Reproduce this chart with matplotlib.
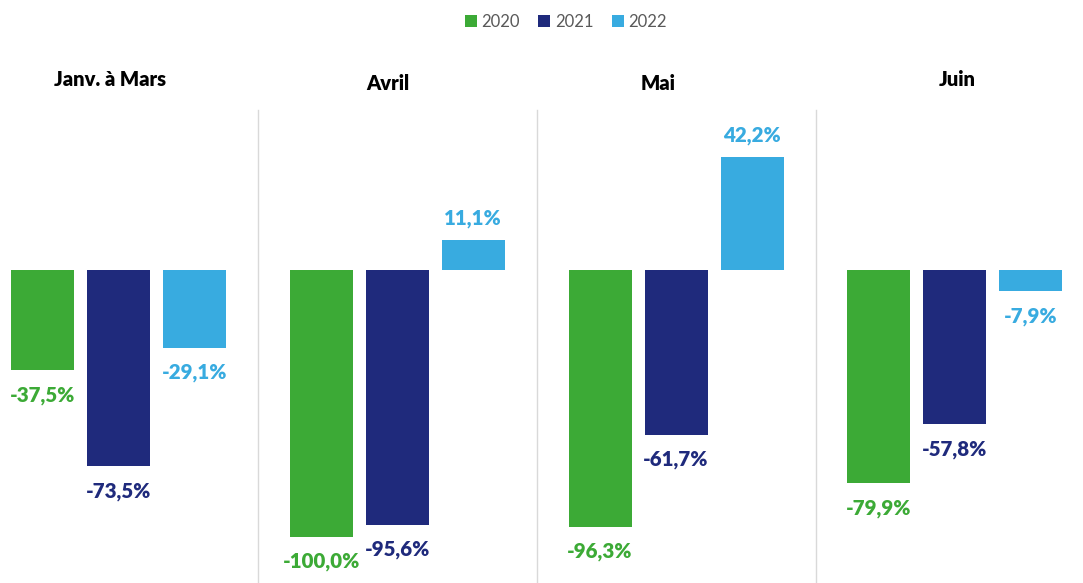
import matplotlib.pyplot as plt
from matplotlib.patches import Patch

plt.rcParams['font.family'] = ['Lato', 'DejaVu Sans']

# Data
periods = ["Janv. à Mars", "Avril", "Mai", "Juin"]
years = ["2020", "2021", "2022"]
values_2020 = [-37.5, -100.0, -96.3, -79.9]
values_2021 = [-73.5, -95.6, -61.7, -57.8]
values_2022 = [-29.1, 11.1, 42.2, -7.9]
series = [values_2020, values_2021, values_2022]
colors = ["#3CAA36", "#1F2A7C", "#38ABE0"]

# Layout (in pixel units of the 1083x583 canvas)
W, H = 1083, 583
zero_px = 270
px_per_pct = 2.667
group_x0 = 118.5
group_step = 278.8
bar_step = 76
bar_w = 63
title_x = [110, 388, 658, 957]
title_y_px = [80, 83, 83, 80]


def val_from_px(p):
    return (zero_px - p) / px_per_pct


fig = plt.figure(figsize=(W / 100, H / 100), dpi=100)
ax = fig.add_axes([0, 0, 1, 1])
ax.set_xlim(0, W)
ax.set_ylim(val_from_px(H), val_from_px(0))
ax.axis("off")

for j, vals in enumerate(series):
    xs = [group_x0 + i * group_step + (j - 1) * bar_step for i in range(len(periods))]
    ax.bar(xs, vals, width=bar_w, color=colors[j], linewidth=0)
    for x, v in zip(xs, vals):
        label = f"{v:.1f}%".replace(".", ",")
        off = 15.5 if v >= 0 else -18
        ax.annotate(label, (x, v), xytext=(0, off), textcoords="offset points",
                    ha="center", va="center", fontsize=14.8, fontweight="heavy",
                    color=colors[j])

# separators between panels
sep_top = (H - 110) / H
for i in range(1, len(periods)):
    ax.axvline(group_x0 + (i - 0.5) * group_step, ymin=0, ymax=sep_top,
               color="#D9D9D9", linewidth=1)

# panel titles
for t, x, yp in zip(periods, title_x, title_y_px):
    ax.text(x, val_from_px(yp), t, ha="center", va="center", fontsize=14.5,
            fontweight="heavy", color="black")

handles = [Patch(facecolor=c, edgecolor="none") for c in colors]
fig.legend(handles, years, loc="center", bbox_to_anchor=(566 / W, 1 - 22 / H),
           ncol=3, frameon=False, fontsize=12, labelcolor="#595959",
           handlelength=0.7, handleheight=0.7, handletextpad=0.3,
           columnspacing=1.1)

fig.savefig("out.png", dpi=100)
